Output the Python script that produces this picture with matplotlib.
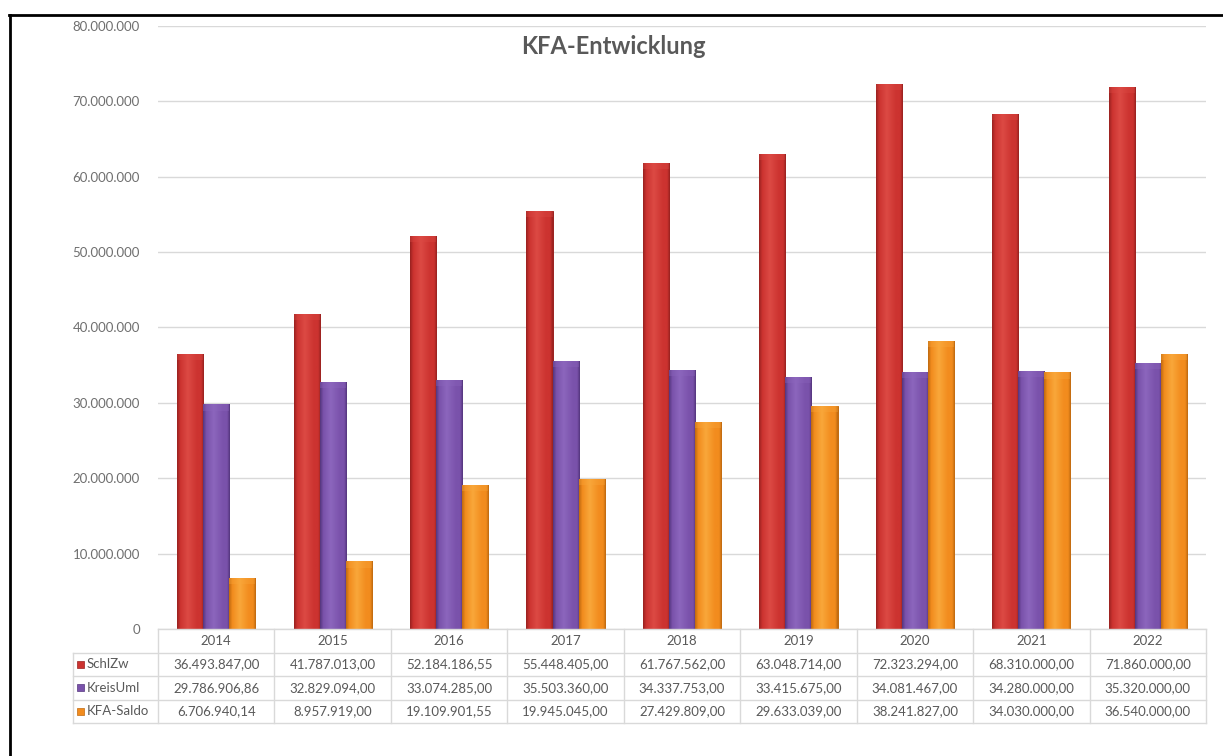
import matplotlib.pyplot as plt
import numpy as np
from matplotlib.colors import LinearSegmentedColormap
from matplotlib.lines import Line2D
from matplotlib.patches import Rectangle

# Daten
jahre = ['2014', '2015', '2016', '2017', '2018', '2019', '2020', '2021', '2022']
schlzw = [36493847.00, 41787013.00, 52184186.55, 55448405.00, 61767562.00,
          63048714.00, 72323294.00, 68310000.00, 71860000.00]
kreisuml = [29786906.86, 32829094.00, 33074285.00, 35503360.00, 34337753.00,
            33415675.00, 34081467.00, 34280000.00, 35320000.00]
kfa_saldo = [6706940.14, 8957919.00, 19109901.55, 19945045.00, 27429809.00,
             29633039.00, 38241827.00, 34030000.00, 36540000.00]
serien = ['SchlZw', 'KreisUml', 'KFA-Saldo']
werte = [schlzw, kreisuml, kfa_saldo]
y_ticks = np.arange(0, 80000001, 10000000)

# Farben (dunkel, basis, hell)
farben = [('#9a2220', '#cc3330', '#dc4a44'),
          ('#55367e', '#7a52ab', '#8c66bd'),
          ('#c06a10', '#f28c1e', '#f9a73a')]

TEXT = '#595959'
LINIE = '#d9d9d9'
W, H = 1223, 756

plt.rcParams['font.family'] = ['Lato', 'DejaVu Sans']


def de_zahl(v, nachkomma=2):
    s = f'{v:,.{nachkomma}f}'
    return s.replace(',', 'X').replace('.', ',').replace('X', '.')


def fx(px):
    return px / W


def fy(py):
    return 1 - py / H


fig = plt.figure(figsize=(W / 100, H / 100), dpi=100)
fig.patch.set_facecolor('white')

# Rahmen
fig.add_artist(Line2D([fx(9), fx(1223)], [fy(15), fy(15)], color='black', lw=2))
fig.add_artist(Line2D([fx(10), fx(10)], [fy(15), fy(756)], color='black', lw=2))

x0, x1 = 158, 1206
y_top, y_null = 26, 629
ax = fig.add_axes([fx(x0), fy(y_null), fx(x1 - x0), (y_null - y_top) / H])
ax.set_xlim(-0.5, len(jahre) - 0.5)
ax.set_ylim(0, 80000000)

breite = 0.224
x = np.arange(len(jahre))
grad = np.linspace(0, 1, 64).reshape(1, -1)
for i, (serie, daten) in enumerate(zip(serien, werte)):
    dunkel, basis, hell = farben[i]
    cmap = LinearSegmentedColormap.from_list(
        serie, [(0, dunkel), (0.12, basis), (0.4, hell), (0.75, basis), (0.9, basis), (1, dunkel)])
    pos = x + (i - 1) * breite
    bars = ax.bar(pos, daten, width=breite, color=basis, edgecolor=dunkel, lw=0.7, zorder=3)
    for b in bars:
        im = ax.imshow(grad, cmap=cmap, aspect='auto', zorder=3.5,
                       extent=[b.get_x(), b.get_x() + b.get_width(), 0, b.get_height()])
        im.set_clip_path(b)
        # leichte Kappe oben
        kappe = 0.01 * 80000000
        ax.add_patch(Rectangle((b.get_x(), b.get_height() - kappe), b.get_width(), kappe,
                               color=hell, alpha=0.35, lw=0, zorder=3.6))

ax.set_yticks(y_ticks)
ax.set_yticklabels([de_zahl(v, 0) for v in y_ticks], color='#6f6f6f', fontsize=9.5)
ax.tick_params(axis='y', length=0, pad=13)
ax.set_xticks([])
ax.grid(axis='y', color=LINIE, lw=1, zorder=0)
for s in ax.spines.values():
    s.set_visible(False)

fig.text(fx(613), fy(47), 'KFA-Entwicklung', ha='center', va='center',
         fontsize=17, fontweight='bold', color=TEXT)

# Datentabelle
zeilen = [629, 652.5, 676, 699.5, 723]
spalte = (x1 - x0) / len(jahre)
legende_x = 73
for k, yy in enumerate(zeilen):
    xa = x0 if k == 0 else legende_x
    fig.add_artist(Line2D([fx(xa), fx(x1)], [fy(yy), fy(yy)], color=LINIE, lw=1))
fig.add_artist(Line2D([fx(legende_x), fx(legende_x)], [fy(zeilen[1]), fy(zeilen[-1])],
                      color=LINIE, lw=1))
for j in range(len(jahre) + 1):
    xx = x0 + j * spalte
    fig.add_artist(Line2D([fx(xx), fx(xx)], [fy(zeilen[0]), fy(zeilen[-1])], color=LINIE, lw=1))

for j, jahr in enumerate(jahre):
    xc = x0 + (j + 0.5) * spalte
    fig.text(fx(xc), fy((zeilen[0] + zeilen[1]) / 2), jahr, ha='center', va='center',
             fontsize=9.5, color=TEXT)
    for r, daten in enumerate(werte):
        yc = (zeilen[r + 1] + zeilen[r + 2]) / 2
        fig.text(fx(xc), fy(yc), de_zahl(daten[j]), ha='center', va='center',
                 fontsize=9.5, color=TEXT)

for r, serie in enumerate(serien):
    yc = (zeilen[r + 1] + zeilen[r + 2]) / 2
    fig.add_artist(Rectangle((fx(77), fy(yc + 3.5)), fx(7), 7 / H,
                             facecolor=farben[r][1], edgecolor=farben[r][0], lw=0.5))
    fig.text(fx(87), fy(yc), serie, ha='left', va='center', fontsize=9.5, color=TEXT)

fig.savefig('out.png', dpi=100)
